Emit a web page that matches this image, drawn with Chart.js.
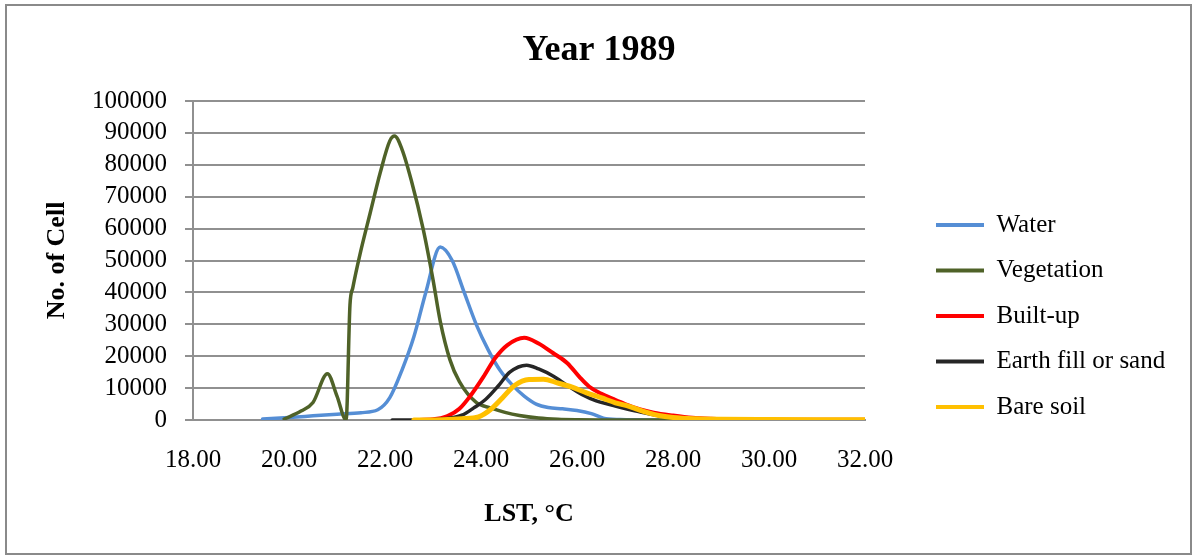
<!DOCTYPE html>
<html>
<head>
<meta charset="utf-8">
<title>Year 1989 – LST distribution by land cover</title>
<script src="https://cdn.jsdelivr.net/npm/chart.js@4.4.1/dist/chart.umd.min.js"></script>
<style>
  html, body { margin: 0; padding: 0; background: #ffffff; overflow: hidden; }
  #wrap { width: 1198px; height: 559px; position: relative; }
  canvas { display: block; }
</style>
</head>
<body>
<div id="wrap"><canvas id="lstChart" width="1198" height="559"></canvas></div>
<script>
// Land-surface temperature (°C) and number of cells per land-cover class, 1989
const chartTitle = 'Year 1989';
const xAxisTitle = 'LST, °C';
const yAxisTitle = 'No. of Cell';

const lstTicks  = [18, 20, 22, 24, 26, 28, 30, 32];
const cellTicks = [0, 10000, 20000, 30000, 40000, 50000, 60000, 70000, 80000, 90000, 100000];

const seriesNames = ['Water', 'Vegetation', 'Built-up', 'Earth fill or sand', 'Bare soil'];

const waterLst   = [19.45, 20.0, 20.5, 21.0, 21.5, 21.85, 22.1, 22.35, 22.6, 22.85, 23.15, 23.4, 23.65, 23.9, 24.15, 24.4, 24.65, 24.9, 25.15, 25.4, 25.7, 26.0, 26.3, 26.55, 26.9, 27.3, 28.0];
const waterCells = [300, 800, 1300, 1800, 2300, 3200, 7000, 15500, 26000, 40000, 54200, 50000, 40000, 30000, 22000, 15500, 11000, 7500, 5000, 3900, 3500, 3000, 2000, 600, 150, 50, 0];

const vegLst   = [19.9, 20.25, 20.5, 20.8, 21.0, 21.19, 21.27, 21.33, 21.48, 21.69, 21.9, 22.1, 22.2, 22.35, 22.55, 22.8, 23.0, 23.15, 23.35, 23.55, 23.9, 24.2, 24.5, 24.8, 25.2, 25.6, 26.0, 26.5, 27.0, 28.0];
const vegCells = [300, 2800, 5500, 14500, 7500, 0, 36000, 41500, 52000, 64800, 77500, 87500, 89000, 85000, 75000, 59500, 44000, 31000, 19000, 12000, 5500, 3800, 2400, 1400, 600, 200, 50, 0, 0, 0];

const builtLst   = [22.6, 23.0, 23.3, 23.55, 23.8, 24.05, 24.3, 24.55, 24.9, 25.2, 25.5, 25.8, 26.05, 26.25, 26.5, 26.75, 27.0, 27.3, 27.6, 28.0, 28.4, 28.8, 29.5, 30.5, 32.0];
const builtCells = [0, 200, 1200, 3500, 8000, 13500, 19500, 23500, 25800, 24000, 21000, 17800, 13500, 10500, 8300, 6600, 5000, 3400, 2300, 1400, 700, 400, 200, 100, 50];

const earthLst   = [22.15, 23.0, 23.3, 23.6, 23.85, 24.1, 24.35, 24.6, 24.95, 25.2, 25.5, 25.8, 26.1, 26.4, 26.7, 27.0, 27.3, 27.6, 28.0, 28.5, 29.0, 30.0, 32.0];
const earthCells = [0, 100, 500, 1500, 3800, 6500, 10500, 15000, 17200, 16000, 13800, 10800, 8000, 6000, 4800, 3600, 2600, 1600, 800, 350, 200, 100, 50];

const bareLst   = [22.6, 23.2, 23.6, 23.95, 24.2, 24.45, 24.7, 25.0, 25.3, 25.6, 25.9, 26.2, 26.5, 26.8, 27.1, 27.4, 27.7, 28.0, 28.5, 29.0, 30.0, 31.0, 32.0];
const bareCells = [0, 100, 400, 1000, 3300, 7000, 10800, 12700, 12800, 11600, 10300, 8500, 7000, 5400, 4200, 2600, 1400, 800, 400, 250, 150, 100, 80];

const seriesColors = ['#558ED5', '#4F6228', '#FF0000', '#262626', '#FFC000'];
const seriesWidths = [3.5, 3.5, 4, 3.5, 5];

const toPoints = (xs, ys) => xs.map((x, i) => ({ x, y: ys[i] }));
const seriesPoints = [
  toPoints(waterLst, waterCells),
  toPoints(vegLst, vegCells),
  toPoints(builtLst, builtCells),
  toPoints(earthLst, earthCells),
  toPoints(bareLst, bareCells)
];

const serif = "'Liberation Serif', 'Times New Roman', 'DejaVu Serif', serif";
const gridGray = '#909090';

// White page with a thin grey frame around the whole chart
const chartFrame = {
  id: 'chartFrame',
  beforeDraw(chart) {
    const { ctx, width, height } = chart;
    ctx.save();
    ctx.fillStyle = '#ffffff';
    ctx.fillRect(0, 0, width, height);
    ctx.restore();
  },
  afterDraw(chart) {
    const ctx = chart.ctx;
    ctx.save();
    ctx.strokeStyle = '#8a8a8a';
    ctx.lineWidth = 2;
    ctx.strokeRect(6, 5, 1185, 549);
    ctx.restore();
  }
};

// Title centred on the whole page; legend column beside the plot, level with the curves
const blockSpots = {
  id: 'blockSpots',
  afterLayout(chart) {
    const tb = chart.titleBlock;
    if (tb) {
      tb.left = 0;
      tb.right = chart.width;
      tb.width = chart.width;
    }
    const lg = chart.legend;
    if (lg) {
      const pad = lg.options.labels.padding;
      const h = lg.height;
      lg.left = 936 - pad;
      lg.width = 290;
      lg.right = lg.left + lg.width;
      lg.top = 192;
      lg.bottom = lg.top + h;
    }
  }
};

const datasets = seriesNames.map((name, i) => ({
  label: name,
  data: seriesPoints[i],
  borderColor: seriesColors[i],
  backgroundColor: seriesColors[i],
  borderWidth: seriesWidths[i],
  pointRadius: 0,
  pointHoverRadius: 0,
  fill: false,
  cubicInterpolationMode: 'monotone',
  borderCapStyle: 'round',
  borderJoinStyle: 'round',
  order: seriesNames.length - i
}));

new Chart(document.getElementById('lstChart'), {
  type: 'line',
  data: { datasets },
  plugins: [chartFrame, blockSpots],
  options: {
    responsive: false,
    devicePixelRatio: 1,
    animation: false,
    layout: { padding: { left: 0, right: 93, top: 0, bottom: 0 } },
    plugins: {
      title: {
        display: true,
        text: chartTitle,
        color: '#000000',
        font: { family: serif, size: 36, weight: 'bold' },
        padding: { top: 29, bottom: 28.8 }
      },
      legend: {
        display: true,
        position: 'right',
        align: 'start',
        maxWidth: 240,
        labels: {
          color: '#000000',
          font: { family: serif, size: 25 },
          boxWidth: 48,
          boxHeight: 4,
          padding: 20.5,
          sort: (a, b) => a.datasetIndex - b.datasetIndex,
          generateLabels(chart) {
            return chart.data.datasets.map((ds, i) => ({
              text: ds.label,
              fillStyle: ds.borderColor,
              strokeStyle: ds.borderColor,
              lineWidth: 0,
              hidden: !chart.isDatasetVisible(i),
              datasetIndex: i,
              fontColor: '#000000'
            }));
          }
        }
      },
      tooltip: { enabled: false }
    },
    scales: {
      x: {
        type: 'linear',
        min: lstTicks[0],
        max: lstTicks[lstTicks.length - 1],
        afterBuildTicks(scale) { scale.ticks = lstTicks.map(v => ({ value: v })); },
        afterFit(scale) { scale.height = 139; },
        grid: { display: false, drawTicks: false },
        border: { display: true, color: gridGray, width: 2 },
        ticks: {
          color: '#000000',
          font: { family: serif, size: 25 },
          padding: 25,
          maxRotation: 0,
          autoSkip: false,
          callback: v => v.toFixed(2)
        },
        title: {
          display: true,
          text: xAxisTitle,
          color: '#000000',
          font: { family: serif, size: 26, weight: 'bold' },
          padding: { top: 0, bottom: 29 }
        }
      },
      y: {
        type: 'linear',
        min: cellTicks[0],
        max: cellTicks[cellTicks.length - 1],
        afterBuildTicks(scale) { scale.ticks = cellTicks.map(v => ({ value: v })); },
        afterFit(scale) { scale.width = 193; },
        grid: { display: true, color: gridGray, lineWidth: 2, drawTicks: true, tickLength: 8, tickColor: gridGray, tickWidth: 2 },
        border: { display: true, color: gridGray, width: 2 },
        ticks: {
          color: '#000000',
          font: { family: serif, size: 25 },
          padding: 18,
          autoSkip: false,
          callback: v => String(v)
        },
        title: {
          display: true,
          text: yAxisTitle,
          color: '#000000',
          font: { family: serif, size: 26, weight: 'bold' },
          padding: { top: 42, bottom: 0 }
        }
      }
    }
  }
});
</script>
</body>
</html>
